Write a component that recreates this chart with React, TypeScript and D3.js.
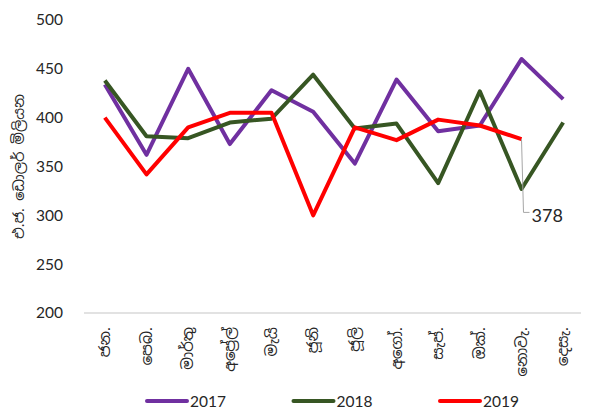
import React from "react";
import * as d3 from "d3";

const months = ["ජන.", "පෙබ.", "මාර්තු", "අප්‍රේල්", "මැයි", "ජූනි", "ජූලි", "අගෝ.", "සැප්.", "ඔක්.", "නොවැ.", "දෙසැ."];
const v2017 = [434, 362, 450, 373, 428, 406, 353, 439, 386, 392, 460, 419];
const v2018 = [438, 381, 379, 395, 399, 444, 389, 394, 333, 427, 327, 395];
const v2019 = [400, 342, 390, 405, 405, 300, 390, 377, 398, 392, 378];
const yTicks = [200, 250, 300, 350, 400, 450, 500];
const seriesNames = ["2017", "2018", "2019"];
const colors = ["#7030A0", "#375623", "#FF0000"];

const W = 589;
const H = 417;
const FONT = "Lato, 'Open Sans', sans-serif";
const SINHALA = "'Noto Sans Sinhala', 'Noto Sans', 'Open Sans', sans-serif";
const TXT = "#262626";

export default function App() {
  const x = d3.scaleBand<string>().domain(months).range([84, 584]);
  const y = d3.scaleLinear().domain([200, 500]).range([313, 20]);
  const cx = (i: number) => (x(months[i]) ?? 0) + x.bandwidth() / 2;

  const line = d3
    .line<number>()
    .x((_, i) => cx(i))
    .y((d) => y(d));

  const all = [v2017, v2018, v2019];
  const lastIdx = v2019.length - 1;
  const px = cx(lastIdx);
  const py = y(v2019[lastIdx]);

  return (
    <div style={{ margin: -8 }}>
      <svg width={W} height={H} style={{ display: "block", background: "#fff" }}>
        <line x1={84} x2={584} y1={y(200)} y2={y(200)} stroke="#D9D9D9" strokeWidth={1.5} />
        {yTicks.map((t) => (
          <text key={t} x={63} y={y(t)} dy="0.35em" textAnchor="end" fontFamily={FONT} fontSize={15.5} fill={TXT}>
            {t}
          </text>
        ))}
        <text
          transform={`translate(19,${y(350)}) rotate(-90)`}
          textAnchor="middle"
          dy="0.35em"
          fontFamily={SINHALA}
          fontSize={14.5}
          fill={TXT}
        >
          එ.ජ. ඩොලර් මිලියන
        </text>
        {months.map((m, i) => (
          <text
            key={m}
            transform={`translate(${cx(i)},327) rotate(-90)`}
            textAnchor="end"
            dy="0.35em"
            fontFamily={SINHALA}
            fontSize={15}
            fill={TXT}
          >
            {m}
          </text>
        ))}
        {all.map((s, k) => (
          <path key={k} d={line(s) ?? ""} fill="none" stroke={colors[k]} strokeWidth={4} strokeLinejoin="round" />
        ))}
        <polyline
          points={`${px},${py} ${px + 2},${y(303)} ${px + 8},${y(303)}`}
          fill="none"
          stroke="#A6A6A6"
          strokeWidth={1}
        />
        <text x={px + 10} y={y(300)} dy="0.35em" fontFamily={FONT} fontSize={18} fill={TXT}>
          {v2019[lastIdx]}
        </text>
        {seriesNames.map((n, k) => {
          const lx = 147 + k * 146.5;
          return (
            <g key={n}>
              <line x1={lx} x2={lx + 40} y1={401} y2={401} stroke={colors[k]} strokeWidth={4} strokeLinecap="round" />
              <text x={lx + 43} y={402} dy="0.35em" fontFamily={FONT} fontSize={15.5} fill={TXT}>
                {n}
              </text>
            </g>
          );
        })}
      </svg>
    </div>
  );
}
